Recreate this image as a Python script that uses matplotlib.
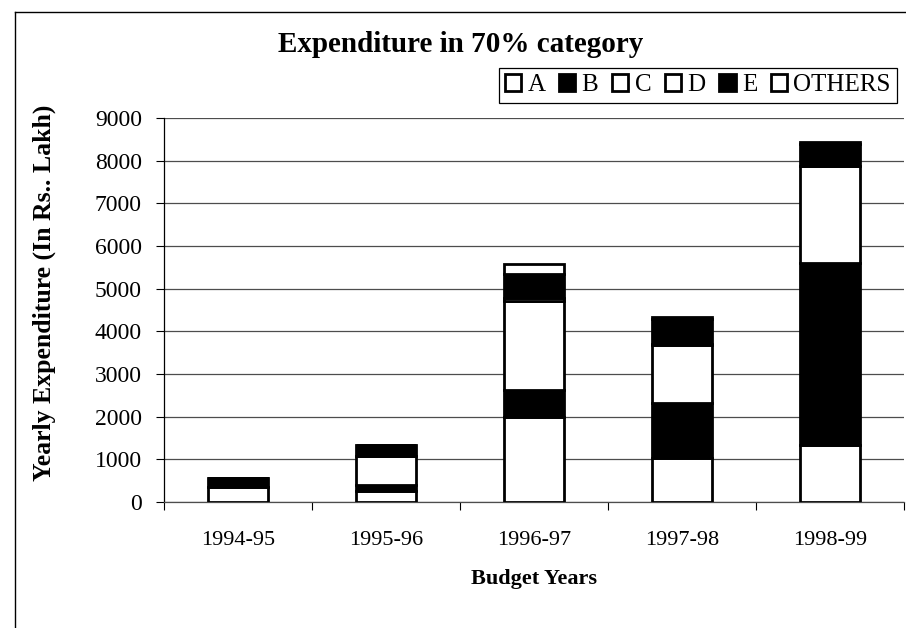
import numpy as np
import matplotlib
matplotlib.use('Agg')
import matplotlib.pyplot as plt
from matplotlib.lines import Line2D

plt.rcParams['font.family'] = ['Liberation Serif', 'DejaVu Serif']

years = ['1994-95', '1995-96', '1996-97', '1997-98', '1998-99']
cat_a = [360, 265, 2000, 1030, 1330]
cat_b = [200, 135, 630, 1300, 4270]
cat_c = [0, 680, 2090, 1360, 2280]
cat_d = [0, 0, 60, 20, 0]
cat_e = [0, 250, 570, 570, 500]
others = [0, 0, 230, 60, 60]

series = [('A', cat_a, 'white'), ('B', cat_b, 'black'), ('C', cat_c, 'white'),
          ('D', cat_d, 'white'), ('E', cat_e, 'black'), ('OTHERS', others, 'white')]

fig = plt.figure(figsize=(9.06, 6.28), dpi=100)
ax = fig.add_axes([164/906, 1-502/628, 740/906, 384/628])

x = np.arange(len(years))
bottom = np.zeros(len(years))
handles = []
for name, vals, col in series:
    vals = np.array(vals, dtype=float)
    b = ax.bar(x, vals, 0.41, bottom=bottom, color=col, edgecolor='black', linewidth=2, zorder=3)
    handles.append(b)
    bottom += vals

ax.set_xlim(-0.5, 4.5)
ax.set_ylim(0, 9000)
ax.set_yticks(range(0, 9001, 1000))
ax.yaxis.grid(True, color='0.3', linewidth=0.9, zorder=0)
ax.set_xticks(x)
ax.set_xticklabels(years)
ax.set_xticks(np.arange(-0.5, 4.6, 1), minor=True)
ax.tick_params(axis='x', which='major', length=0, pad=21, labelsize=16)
ax.tick_params(axis='x', which='minor', length=6, width=0.8, direction='out')
ax.tick_params(axis='y', length=6, width=0.8, pad=10, labelsize=17)
for s in ['top', 'right']:
    ax.spines[s].set_visible(False)
ax.spines['left'].set_linewidth(0.9)
ax.spines['bottom'].set_linewidth(0.9)
ax.spines['bottom'].set_color('0.3')

fig.text(461/906, 1-52/628, 'Expenditure in 70% category', fontsize=21, fontweight='bold',
         ha='center', va='baseline')
fig.text(44/906, 1-293/628, 'Yearly Expenditure (In Rs.. Lakh)', fontsize=18.5, fontweight='bold',
         rotation=90, ha='center', va='center')
fig.text(534/906, 1-579/628, 'Budget Years', fontsize=16, fontweight='bold',
         ha='center', va='center')

leg = fig.legend(handles, [s[0] for s in series], ncol=6, loc='upper right',
                 bbox_to_anchor=(897/906, 1-68/628), fontsize=18, frameon=True,
                 fancybox=False, edgecolor='black', framealpha=1, borderpad=0.25,
                 handlelength=0.65, handleheight=0.65, handletextpad=0.25, columnspacing=0.55,
                 borderaxespad=0)
leg.get_frame().set_linewidth(0.9)

# scanned page border
fig.add_artist(Line2D([15/906, 15/906], [0, 1-12/628], color='black', linewidth=1, transform=fig.transFigure))
fig.add_artist(Line2D([15/906, 1], [1-12/628, 1-12/628], color='black', linewidth=1, transform=fig.transFigure))

fig.savefig('out.png', dpi=100)
